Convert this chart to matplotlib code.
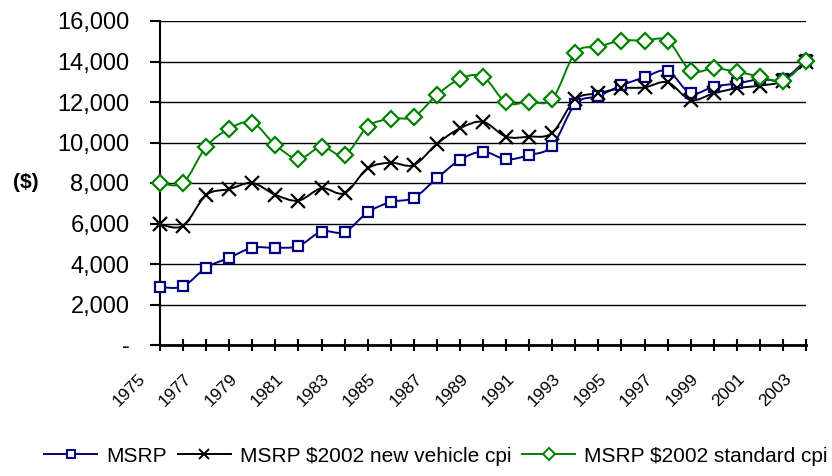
import numpy as np
import matplotlib
matplotlib.use("Agg")
import matplotlib.pyplot as plt
import matplotlib.transforms as mtrans
from matplotlib.path import Path
from matplotlib.patches import PathPatch
from matplotlib.lines import Line2D
from matplotlib.ticker import FuncFormatter

plt.rcParams['font.family'] = ['Liberation Sans', 'DejaVu Sans']

years = list(range(1975, 2004))

msrp = [2850, 2900, 3820, 4310, 4800, 4800, 4890, 5600, 5580, 6550,
        7060, 7270, 8230, 9140, 9550, 9170, 9380, 9840, 11900, 12300,
        12820, 13220, 13530, 12430, 12760, 12920, 13120, 13120, 14070]

msrp_new_vehicle_cpi = [5960, 5890, 7400, 7700, 8000, 7420, 7130, 7740, 7500, 8720,
                        9000, 8890, 9930, 10700, 11020, 10290, 10290, 10480, 12130, 12430,
                        12680, 12720, 12970, 12100, 12430, 12680, 12810, 13040, 13990]

msrp_standard_cpi = [8010, 8010, 9790, 10680, 10980, 9880, 9190, 9790, 9380, 10780,
                     11180, 11270, 12350, 13140, 13250, 11980, 12010, 12150, 14430, 14730,
                     15030, 15030, 15030, 13550, 13660, 13500, 13250, 13050, 14040]

series_labels = ['MSRP', 'MSRP $2002 new vehicle cpi', 'MSRP $2002 standard cpi']


def smooth_path(x, y):
    """Cubic bezier path through every point (spreadsheet-style smoothed line)."""
    n = len(x)
    verts = [(x[0], y[0])]
    codes = [Path.MOVETO]
    for i in range(n - 1):
        p0 = max(i - 1, 0)
        p3 = min(i + 2, n - 1)
        c1 = (x[i] + (x[i + 1] - x[p0]) / 6.0, y[i] + (y[i + 1] - y[p0]) / 6.0)
        c2 = (x[i + 1] - (x[p3] - x[i]) / 6.0, y[i + 1] - (y[p3] - y[i]) / 6.0)
        verts += [c1, c2, (x[i + 1], y[i + 1])]
        codes += [Path.CURVE4] * 3
    return Path(verts, codes)


fig = plt.figure(figsize=(8.32, 4.76), dpi=100)
ax = fig.add_axes([160 / 832, 1 - 345 / 476, (806 - 160) / 832, (345 - 21) / 476])

styles = [
    dict(color='#000080', marker='s', ms=7.5, mfc='white'),
    dict(color='black', marker='x', ms=9.5, mfc='none'),
    dict(color='#008000', marker='D', ms=8, mfc='white'),
]

handles = []
for vals, st, lab in zip([msrp, msrp_new_vehicle_cpi, msrp_standard_cpi], styles, series_labels):
    ax.add_patch(PathPatch(smooth_path(years, vals), fill=False,
                           edgecolor=st['color'], lw=1.4, zorder=3))
    ax.plot(years, vals, linestyle='none', marker=st['marker'], ms=st['ms'],
            mec=st['color'], mfc=st['mfc'], mew=1.6, zorder=4, clip_on=False)
    handles.append(Line2D([], [], color=st['color'], lw=1.4, marker=st['marker'],
                          ms=st['ms'] * 0.8, mec=st['color'], mfc=st['mfc'], mew=1.4))

ax.set_xlim(1975, 2003)
ax.set_ylim(0, 16000)
ax.set_yticks(range(0, 16001, 2000))
ax.yaxis.set_major_formatter(FuncFormatter(lambda v, p: '-' if v == 0 else f'{int(v):,}'))
ax.grid(axis='y', color='black', lw=1.0)
ax.set_axisbelow(True)

ax.set_xticks(years)
ax.set_xticklabels([str(y) if (y - 1975) % 2 == 0 else '' for y in years],
                   rotation=45, ha='right', va='top', fontsize=12.5)
ax.tick_params(axis='x', direction='inout', length=9, width=1.5, pad=10)
ax.tick_params(axis='y', direction='out', length=7, width=1.5, labelsize=17, pad=15)

# year labels sit a bit left of and below their ticks
shift = mtrans.ScaledTranslation(-12 / 100, -6 / 100, fig.dpi_scale_trans)
for lbl in ax.get_xticklabels():
    lbl.set_transform(lbl.get_transform() + shift)

for s in ['top', 'right']:
    ax.spines[s].set_visible(False)
ax.spines['left'].set_linewidth(1.5)
ax.spines['bottom'].set_linewidth(2)

ax.set_ylabel('($)', rotation=0, fontsize=15, fontweight='bold', va='center')
ax.yaxis.set_label_coords(-0.207, 0.5)

fig.legend(handles=handles, labels=series_labels, loc='center', ncol=3,
           bbox_to_anchor=(0.524, 0.042), frameon=False, fontsize=15,
           handlelength=2.55, handletextpad=0.45, columnspacing=0.5)

fig.savefig('out.png', dpi=100)
